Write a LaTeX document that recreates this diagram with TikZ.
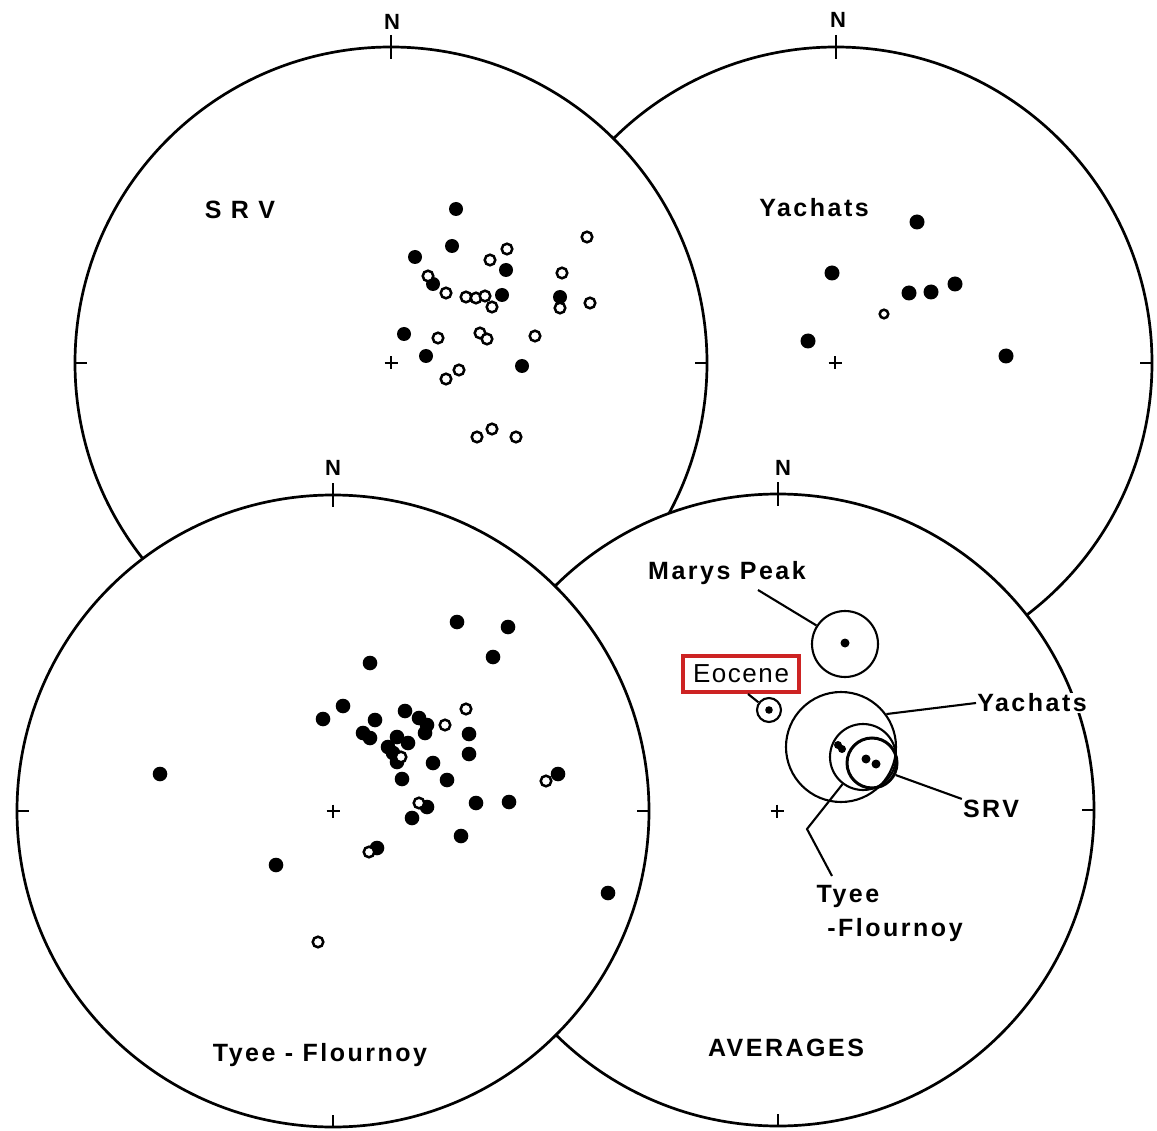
\documentclass[tikz,border=0pt]{standalone}
\usepackage{fontspec}
\setmainfont{Liberation Sans}
\newfontfamily\lblfam{Liberation Sans}[LetterSpace=10]
\newfontfamily\eofam{Liberation Sans}[LetterSpace=6]
\definecolor{boxred}{RGB}{205,35,35}
\newcommand\stereonet[2]{%
  \draw[net] (#1,#2) circle[radius=316pt];
  \draw[netick] (#1,#2-328) -- (#1,#2-304);
  \draw[netick] (#1,#2+304) -- (#1,#2+316);
  \draw[netick] (#1-316,#2) -- (#1-304,#2);
  \draw[netick] (#1+304,#2) -- (#1+316,#2);
}
\newcommand\centrecross{}
\renewcommand\centrecross[2]{%
  \draw[cross] (#1-6.5,#2) -- (#1+6.5,#2) (#1,#2-6.5) -- (#1,#2+6.5);
}
\begin{document}
\begin{tikzpicture}[x=1pt,y=-1pt,
  net/.style={draw=black, fill=white, line width=2.7pt},
  netick/.style={line width=2.4pt},
  cross/.style={line width=2pt},
  fdot/.style={fill=black},
  odot/.style={draw=black, fill=white, line width=2.5pt},
  lbl/.style={font=\lblfam\bfseries\fontsize{25}{28}\selectfont, inner sep=1pt},
  nlbl/.style={font=\bfseries\fontsize{22}{24}\selectfont, inner sep=0pt},
  ring/.style={circle, draw, line width=2.1pt, inner sep=0pt},
  lead/.style={line width=2.1pt},
]
\useasboundingbox (0,0) rectangle (1157,1131);
\fill[white] (0,0) rectangle (1157,1131);

% stereonets, back to front
\stereonet{836}{363}
\stereonet{391}{363}
\stereonet{778}{810}
\stereonet{333}{811}

% north labels
\node[nlbl] (nsrv) at (392,22) {N};
\node[nlbl] (nyac) at (838,20) {N};
\node[nlbl] (ntyee) at (333,468) {N};
\node[nlbl] (navg) at (783,468) {N};

% centre crosses
\centrecross{391}{363}
\centrecross{835}{363}
\centrecross{333}{811}
\centrecross{777}{811}

% ---- SRV panel
\node[lbl] (tsrv) at (240,210) {S R V};
\foreach \x/\y in {456/209, 452/246, 415/257, 506/270, 433/284, 502/295, 560/297, 404/334, 426/356, 522/366}
  \fill[fdot] (\x,\y) circle[radius=7pt];
\foreach \x/\y in {587/237, 507/249, 490/260, 562/273, 428/276, 446/293, 466/297, 476/298, 485/296, 492/307, 560/308, 590/303, 438/338, 480/333, 487/339, 535/336, 459/370, 446/379, 477/437, 492/429, 516/437}
  \draw[odot] (\x,\y) circle[radius=5.3pt];

% ---- Yachats panel
\node[lbl] (tyac) at (814,208) {Yachats};
\foreach \x/\y in {917/222, 832/273, 909/293, 931/292, 955/284, 808/341, 1006/356}
  \fill[fdot] (\x,\y) circle[radius=7.5pt];
\draw[odot] (884,314) circle[radius=4.3pt];

% ---- Tyee-Flournoy panel
\node[lbl] (ttyee) at (320,1055) {Tyee - Flournoy};
\foreach \x/\y in {457/622, 508/627, 493/657, 370/663, 343/706, 323/719, 375/720, 405/711, 419/718, 427/725, 425/733, 363/733, 370/738, 397/737, 388/747, 408/743, 393/753, 397/762, 469/734, 469/754, 433/763, 402/779, 447/780, 558/774, 509/802, 476/803, 427/807, 412/818, 461/836, 377/848, 276/865, 160/774, 608/893}
  \fill[fdot] (\x,\y) circle[radius=7.3pt];
\foreach \x/\y in {466/709, 445/725, 401/757, 546/781, 419/803, 369/852, 318/942}
  \draw[odot] (\x,\y) circle[radius=5.3pt];

% ---- Averages panel
\node[lbl] (tavg) at (786,1048) {AVERAGES};

\node[ring, minimum size=66pt] (mp) at (845,644) {};
\fill (845,643) circle[radius=4.5pt];
\node[lbl] (mpl) at (727,573) {Marys Peak};
\coordinate (mpa) at (758,590);
\draw[lead] (mpa) -- (mp.147);

\node[ring, minimum size=24pt] (eo) at (769,710) {};
\fill (769,710) circle[radius=3.8pt];
\node[font=\eofam\fontsize{26}{28}\selectfont, draw=boxred, line width=3.4pt,
      minimum width=116pt, minimum height=36pt, inner sep=0pt] (eol) at (741,674) {Eocene};
\coordinate (eoa) at (748,694);
\draw[lead] (eoa) -- (eo.144);

\node[ring, minimum size=110pt] (yc) at (841,747) {};
\node[ring, minimum size=66pt] (tyc) at (863,757) {};
\node[ring, line width=3pt, minimum size=50pt] (sc) at (872,763) {};
\fill (838,745) circle[radius=4pt] (842,749) circle[radius=4pt];
\fill (866,759) circle[radius=4.5pt] (876,764) circle[radius=4.5pt];

\node[lbl, fill=white] (ycl) at (1032,703) {Yachats};
\draw[lead] (yc.36) -- (ycl.west);

\node[lbl] (scl) at (991,809) {SRV};
\draw[lead] (sc.-27) -- (scl.north west);

\node[lbl] (tyl1) at (848,896) {Tyee};
\node[lbl] (tyl2) at (895,930) {-Flournoy};
\coordinate (tyb) at (807,829);
\coordinate (tya) at (832,876);
\draw[lead] (tyc.233) -- (tyb) -- (tya);
\end{tikzpicture}
\end{document}
